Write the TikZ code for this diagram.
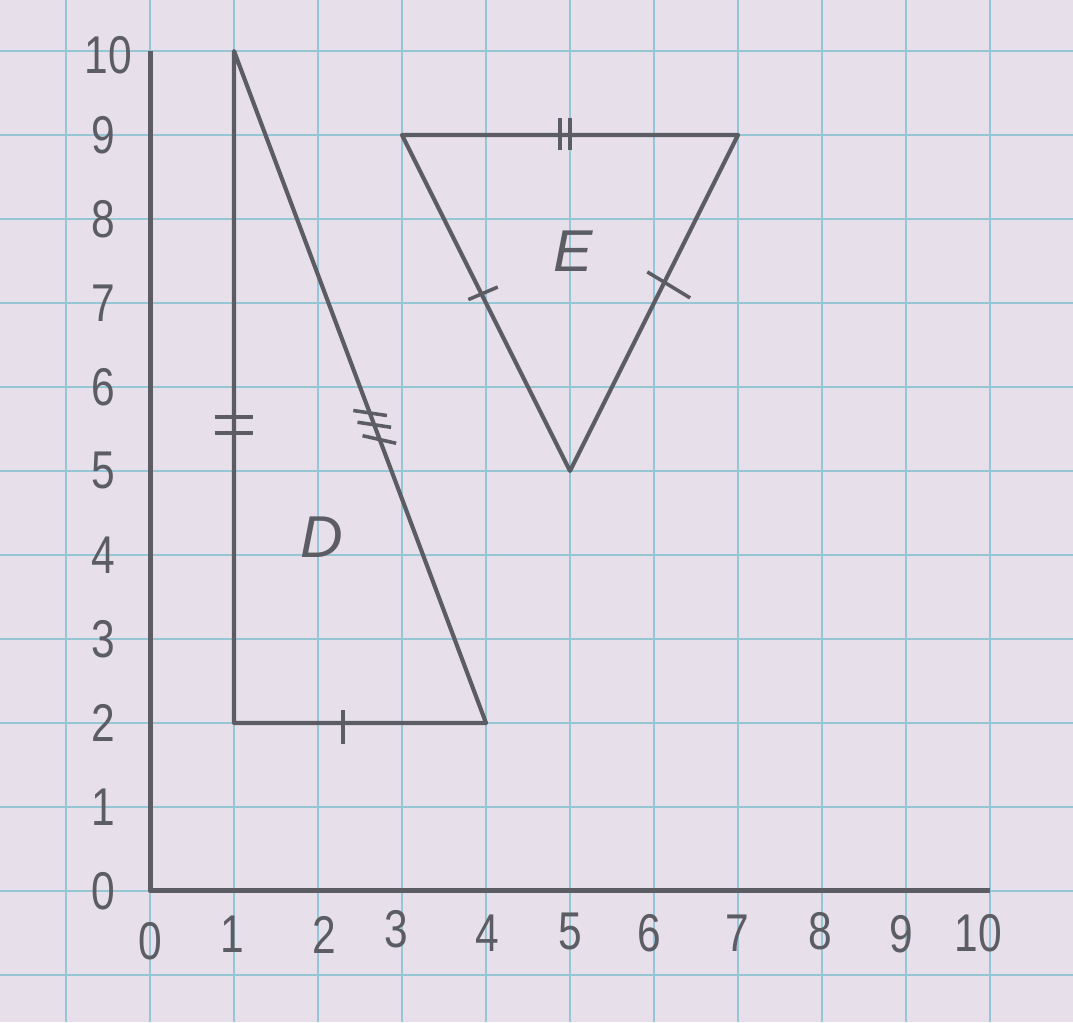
\documentclass[tikz,border=0pt]{standalone}
\usepackage{fontspec}
\setmainfont{Liberation Sans}
\usetikzlibrary{calc}
\definecolor{paper}{RGB}{231,224,234}
\definecolor{gridblue}{RGB}{150,198,214}
\definecolor{ink}{RGB}{92,92,100}
\tikzset{
  gridline/.style={draw=gridblue, line width=0.8pt},
  axisline/.style={draw=ink, line width=1.7pt, line join=round},
  figline/.style={draw=ink, line width=1.4pt, line join=round},
  tick/.style={draw=ink, line width=1.2pt},
  numlabel/.style={text=ink, font=\fontsize{18}{20}\selectfont, inner sep=0pt, xscale=0.8},
  figlabel/.style={text=ink, font=\fontsize{20}{22}\selectfont\itshape, inner sep=0pt}
}
\begin{document}
\begin{tikzpicture}[x=1cm,y=1cm]
\fill[paper] (-1.786,-1.56) rectangle (10.988,10.607);
\useasboundingbox (-1.786,-1.56) rectangle (10.988,10.607);
% grid
\foreach \i in {-1,...,10} \draw[gridline] (\i,-1.56) -- (\i,10.607);
\foreach \j in {-1,...,10} \draw[gridline] (-1.786,\j) -- (10.988,\j);
% axes
\coordinate (O) at (0,0);
\coordinate (Ytop) at (0,10);
\coordinate (Xend) at (10,0);
\draw[axisline] (Ytop) -- (O) -- (Xend);
% axis labels
\foreach \k in {0,...,9} {
  \node[numlabel] (ylab\k) at (-0.56,\k) {\k};
}
\node[numlabel] (ylab10) at (-0.5,9.95) {10};
\node[numlabel] (xlab0) at (0,-0.6) {0};
\node[numlabel] (xlab1) at (0.98,-0.52) {1};
\node[numlabel] (xlab2) at (2.07,-0.52) {2};
\node[numlabel] (xlab3) at (2.93,-0.45) {3};
\node[numlabel] (xlab4) at (4.01,-0.5) {4};
\node[numlabel] (xlab5) at (5.0,-0.48) {5};
\node[numlabel] (xlab6) at (5.95,-0.5) {6};
\node[numlabel] (xlab7) at (6.99,-0.5) {7};
\node[numlabel] (xlab8) at (7.98,-0.48) {8};
\node[numlabel] (xlab9) at (8.95,-0.52) {9};
\node[numlabel] (xlab10) at (9.86,-0.5) {10};
% triangle D
\coordinate (D1) at (1,10);
\coordinate (D2) at (1,2);
\coordinate (D3) at (4,2);
\draw[figline] (D1) -- (D2) -- (D3) -- cycle;
\node[figlabel] (Dlab) at (2.04,4.21) {D};
% ticks on D
\draw[tick] (0.77,5.64) -- (1.23,5.64);
\draw[tick] (0.77,5.45) -- (1.23,5.45);
\draw[tick] (2.30,1.75) -- (2.30,2.15);
\draw[tick] ($(2.62,5.69)+(-0.2,0.03)$) -- ++(0.4,-0.06);
\draw[tick] ($(2.67,5.55)+(-0.2,0.03)$) -- ++(0.4,-0.06);
\draw[tick] ($(2.73,5.38)+(-0.2,0.04)$) -- ++(0.4,-0.09);
% triangle E
\coordinate (E1) at (3,9);
\coordinate (E2) at (7,9);
\coordinate (E3) at (5,5);
\draw[figline] (E1) -- (E2) -- (E3) -- cycle;
\node[figlabel] (Elab) at (5.04,7.62) {E};
% ticks on E
\draw[tick] (4.88,8.82) -- (4.88,9.2);
\draw[tick] (5.00,8.82) -- (5.00,9.2);
\draw[tick] (3.79,7.04) -- (4.14,7.19);
\draw[tick] (5.92,7.37) -- (6.43,7.06);
\end{tikzpicture}
\end{document}
